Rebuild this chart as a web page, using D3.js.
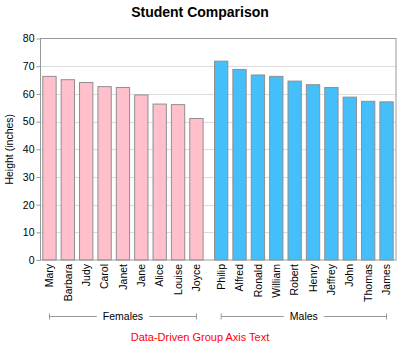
<!DOCTYPE html>
<html>
<head>
<meta charset="utf-8">
<script src="https://cdn.jsdelivr.net/npm/d3@7"></script>
<style>
  body { margin: 0; background: #fff; }
  svg { display: block; font-family: "Liberation Sans", Arial, sans-serif; }
</style>
</head>
<body>
<svg id="chart" width="400" height="350"></svg>
<script>
const femaleNames = ["Mary","Barbara","Judy","Carol","Janet","Jane","Alice","Louise","Joyce"];
const femaleHeights = [66.5, 65.3, 64.3, 62.8, 62.5, 59.8, 56.5, 56.3, 51.3];
const maleNames = ["Philip","Alfred","Ronald","William","Robert","Henry","Jeffrey","John","Thomas","James"];
const maleHeights = [72.0, 69.0, 67.0, 66.5, 64.8, 63.5, 62.5, 59.0, 57.5, 57.3];
const groupLabels = ["Females", "Males"];
const yTicks = [0, 10, 20, 30, 40, 50, 60, 70, 80];

const svg = d3.select("#chart");
const plot = { left: 40.5, right: 396, top: 38.5, bottom: 260 };

const y = d3.scaleLinear().domain([0, 80]).range([plot.bottom, plot.top]);
const xF = d3.scaleBand().domain(femaleNames).range([42.3, 203.6]).paddingInner(0.22).paddingOuter(0);
const xM = d3.scaleBand().domain(maleNames).range([214, 393.7]).paddingInner(0.22).paddingOuter(0);

// title
svg.append("text").attr("x", 200).attr("y", 17).attr("text-anchor", "middle")
  .attr("font-size", 14).attr("font-weight", "bold").text("Student Comparison");

// grid
svg.append("g").selectAll("line").data(yTicks.filter(t => t > 0 && t < 80)).join("line")
  .attr("x1", plot.left).attr("x2", plot.right)
  .attr("y1", d => Math.round(y(d)) + 0.5).attr("y2", d => Math.round(y(d)) + 0.5)
  .attr("stroke", "#dcdcdc").attr("stroke-width", 1);

// y axis
const yAxis = d3.axisLeft(y).tickValues(yTicks).tickSize(4).tickPadding(2);
const gy = svg.append("g").attr("transform", `translate(${plot.left},0)`).call(yAxis);
gy.select(".domain").remove();
gy.selectAll(".tick line").attr("stroke", "#999");
gy.selectAll(".tick text").attr("font-size", 10.5).attr("fill", "#000")
  .attr("font-family", "Liberation Sans, Arial, sans-serif");

svg.append("text").attr("transform", `translate(13,${(plot.top + plot.bottom) / 2}) rotate(-90)`)
  .attr("text-anchor", "middle").attr("font-size", 10.5).text("Height (inches)");

// bars
function drawBars(names, vals, scale, color) {
  const data = names.map((n, i) => ({ n, v: vals[i] }));
  svg.append("g").selectAll("rect").data(data).join("rect")
    .attr("x", d => scale(d.n) + 0.5)
    .attr("y", d => y(d.v) + 0.5)
    .attr("width", scale.bandwidth() - 1)
    .attr("height", d => y(0) - y(d.v) - 0.5)
    .attr("fill", color).attr("stroke", "#8f8f8f").attr("stroke-width", 1);
  svg.append("g").selectAll("text").data(data).join("text")
    .attr("transform", d => `translate(${scale(d.n) + scale.bandwidth() / 2},264) rotate(-90)`)
    .attr("dy", "0.35em").attr("text-anchor", "end").attr("font-size", 10.5)
    .text(d => d.n);
}
drawBars(femaleNames, femaleHeights, xF, "#FFC0CB");
drawBars(maleNames, maleHeights, xM, "#45BFFA");

// frame
svg.append("rect").attr("x", plot.left).attr("y", plot.top)
  .attr("width", plot.right - plot.left).attr("height", plot.bottom - plot.top)
  .attr("fill", "none").attr("stroke", "#999");

// group axis
function groupAxis(label, names, scale) {
  const x1 = scale(names[0]) + scale.bandwidth() / 2;
  const x2 = scale(names[names.length - 1]) + scale.bandwidth() / 2;
  const cx = (x1 + x2) / 2;
  const gy0 = 316.5;
  const g = svg.append("g");
  const t = g.append("text").attr("x", cx).attr("y", gy0).attr("dy", "0.35em")
    .attr("text-anchor", "middle").attr("font-size", 10.5).text(label);
  const w = t.node().getComputedTextLength();
  const gap = 6;
  g.append("line").attr("x1", x1).attr("x2", cx - w / 2 - gap).attr("y1", gy0).attr("y2", gy0).attr("stroke", "#999");
  g.append("line").attr("x1", cx + w / 2 + gap).attr("x2", x2).attr("y1", gy0).attr("y2", gy0).attr("stroke", "#999");
  [x1, x2].forEach(xx => g.append("line").attr("x1", xx).attr("x2", xx)
    .attr("y1", gy0 - 3).attr("y2", gy0 + 3).attr("stroke", "#999"));
}
groupAxis(groupLabels[0], femaleNames, xF);
groupAxis(groupLabels[1], maleNames, xM);

svg.append("text").attr("x", 200).attr("y", 341).attr("text-anchor", "middle")
  .attr("font-size", 11).attr("fill", "#ff0000").text("Data-Driven Group Axis Text");
</script>
</body>
</html>
